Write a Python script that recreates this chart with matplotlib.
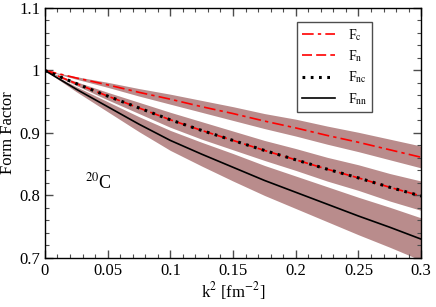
import matplotlib
matplotlib.use('Agg')
import matplotlib.pyplot as plt
from matplotlib.ticker import MultipleLocator, FuncFormatter

plt.rcParams['font.family'] = ['Liberation Serif', 'DejaVu Serif']
plt.rcParams['mathtext.fontset'] = 'stix'

# k^2 grid [fm^-2]
k2 = [0.0, 0.025, 0.05, 0.075, 0.1, 0.125, 0.15, 0.175, 0.2, 0.225, 0.25, 0.275, 0.3]

# charge form factor and its band
F_c = [1.000, 0.988, 0.977, 0.965, 0.954, 0.942, 0.931, 0.919, 0.908, 0.896, 0.885, 0.873, 0.861]
F_c_hi = [1.000, 0.990, 0.981, 0.971, 0.962, 0.952, 0.942, 0.931, 0.922, 0.911, 0.901, 0.890, 0.879]
F_c_lo = [1.000, 0.986, 0.973, 0.959, 0.946, 0.933, 0.920, 0.907, 0.895, 0.882, 0.870, 0.857, 0.844]

# neutron form factor (F_n and F_nc lie on top of each other)
F_n = [1.000, 0.979, 0.959, 0.940, 0.921, 0.904, 0.888, 0.872, 0.857, 0.842, 0.828, 0.813, 0.799]
F_nc = [1.000, 0.979, 0.959, 0.940, 0.921, 0.904, 0.888, 0.872, 0.857, 0.842, 0.828, 0.813, 0.799]
F_n_hi = [1.000, 0.982, 0.965, 0.949, 0.933, 0.918, 0.903, 0.888, 0.875, 0.861, 0.849, 0.835, 0.823]
F_n_lo = [1.000, 0.976, 0.953, 0.931, 0.909, 0.890, 0.873, 0.856, 0.840, 0.823, 0.808, 0.791, 0.776]

# nn form factor
F_nn = [1.000, 0.970, 0.942, 0.914, 0.888, 0.866, 0.845, 0.824, 0.805, 0.786, 0.767, 0.749, 0.730]
F_nn_hi = [1.000, 0.974, 0.950, 0.926, 0.904, 0.885, 0.867, 0.848, 0.831, 0.814, 0.797, 0.781, 0.764]
F_nn_lo = [1.000, 0.966, 0.934, 0.902, 0.872, 0.847, 0.823, 0.800, 0.779, 0.758, 0.737, 0.717, 0.696]

band = '#b98c8c'

fig = plt.figure(figsize=(4.36, 3.07), dpi=100)
ax = fig.add_axes([0.103, 0.160, 0.863, 0.814])

ax.fill_between(k2, F_c_lo, F_c_hi, color=band, lw=0)
ax.fill_between(k2, F_n_lo, F_n_hi, color=band, lw=0)
ax.fill_between(k2, F_nn_lo, F_nn_hi, color=band, lw=0)

ax.plot(k2, F_c, color='red', lw=1.2, dashes=(7, 2.5, 2, 2.5), label=r'F$_{\rm c}$')
ax.plot(k2, F_n, color='red', lw=1.2, dashes=(6, 2.5), label=r'F$_{\rm n}$')
ax.plot(k2, F_nc, color='black', lw=2.2, dashes=(0.9, 1.8), label=r'F$_{\rm nc}$')
ax.plot(k2, F_nn, color='black', lw=1.2, label=r'F$_{\rm nn}$')

ax.set_xlim(0, 0.3)
ax.set_ylim(0.7, 1.1)
ax.xaxis.set_major_locator(MultipleLocator(0.05))
ax.xaxis.set_minor_locator(MultipleLocator(0.01))
ax.yaxis.set_major_locator(MultipleLocator(0.1))
ax.yaxis.set_minor_locator(MultipleLocator(0.02))
ax.xaxis.set_major_formatter(FuncFormatter(lambda v, p: '%g' % round(v, 3)))
ax.yaxis.set_major_formatter(FuncFormatter(lambda v, p: '%g' % round(v, 3)))
ax.tick_params(which='both', direction='in', top=True, right=True, labelsize=12, color='0.3')
ax.tick_params(which='major', length=6, width=1)
ax.tick_params(which='minor', length=3, width=0.8)
for s in ax.spines.values():
    s.set_linewidth(1.0)

ax.set_xlabel(r'k$^2$ [fm$^{-2}$]', fontsize=12, labelpad=1)
ax.set_ylabel('Form Factor', fontsize=12, labelpad=2)

ax.text(0.032, 0.812, r'$^{20}$C', fontsize=13)

leg = ax.legend(loc='upper right', bbox_to_anchor=(0.870, 0.944), borderaxespad=0,
                fontsize=10, handlelength=2.4, labelspacing=0.4, fancybox=False,
                framealpha=1, edgecolor='0.3', borderpad=0.35, handletextpad=0.9)
leg.get_frame().set_linewidth(1.0)

fig.savefig('out.png', dpi=100)
